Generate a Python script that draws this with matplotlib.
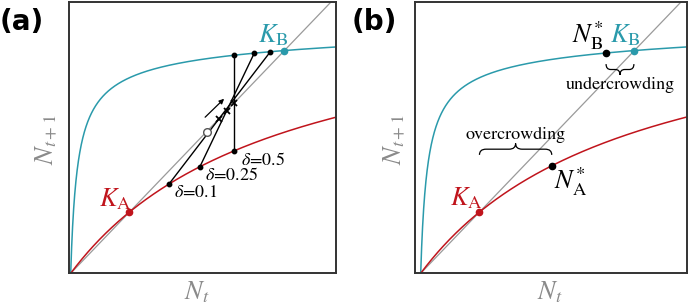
import numpy as np
import matplotlib
matplotlib.use("Agg")
import matplotlib.pyplot as plt
from matplotlib.path import Path
from matplotlib.patches import PathPatch

plt.rcParams['mathtext.fontset'] = 'stix'
SERIF = ['STIXGeneral', 'Liberation Serif', 'DejaVu Serif']

# ---- data ----
# Hassell-type map N_{t+1} = lam*N / (1 + alpha*N)**beta
params_A = dict(lam=1.281, alpha=1.244, beta=1.0)    # red curve
params_B = dict(lam=30.8, alpha=43.66, beta=0.95)    # teal curve
K_A = 0.226
K_B = 0.820
# panel (a): mixing lines (x on curve A, x on curve B)
deltas = [0.1, 0.25, 0.5]
x_on_A = [0.378, 0.497, 0.629]
x_on_B = [0.768, 0.706, 0.629]
delta_labels = ["$\\delta$=0.1", "$\\delta$=0.25", "$\\delta$=0.5"]
open_circle = 0.523
arrow_from = (0.517, 0.576)
arrow_to = (0.590, 0.644)
# panel (b)
N_A_star = 0.504
N_B_star = 0.713

TEAL = "#2a9aab"
RED = "#c0141c"
GRAY = "#9a9a9a"


def f(x, lam, alpha, beta):
    return lam * x / (1 + alpha * x) ** beta


W, H = 689, 305
fig = plt.figure(figsize=(W / 100, H / 100), dpi=100)


def px_axes(left, right, top, bottom):
    return fig.add_axes([left / W, 1 - bottom / H, (right - left) / W, (bottom - top) / H])


def setup(ax, origin_px, left_px, right_px):
    ax.set_xlim((left_px - origin_px) / 260.0, (right_px - origin_px) / 260.0)
    ax.set_ylim(0, (273.3 - 1.7) / 271.0)
    ax.set_xticks([])
    ax.set_yticks([])
    for s in ax.spines.values():
        s.set_color("#333333")
        s.set_linewidth(1.4)
    x = np.linspace(0, 1.03, 2000)
    ax.plot([0, 1.1], [0, 1.1], color=GRAY, lw=0.9, zorder=1)
    ax.plot(x, f(x, **params_B), color=TEAL, lw=1.1, zorder=2)
    ax.plot(x, f(x, **params_A), color=RED, lw=1.1, zorder=2)
    ax.plot([K_A], [K_A], 'o', color=RED, ms=4.5, zorder=5)
    ax.plot([K_B], [K_B], 'o', color=TEAL, ms=4.5, zorder=5)


def brace(ax, x1, x2, y0, h, q=0.025):
    ym = y0 + h / 2
    xm = (x1 + x2) / 2
    verts = [(x1, y0), (x1, ym), (x1 + q, ym), (xm - q, ym), (xm, ym), (xm, y0 + h),
             (xm, ym), (xm + q, ym), (x2 - q, ym), (x2, ym), (x2, y0)]
    codes = [Path.MOVETO, Path.CURVE3, Path.CURVE3, Path.LINETO, Path.CURVE3, Path.CURVE3,
             Path.CURVE3, Path.CURVE3, Path.LINETO, Path.CURVE3, Path.CURVE3]
    ax.add_patch(PathPatch(Path(verts, codes), fc='none', ec='black', lw=0.9, zorder=4))


# ---------------- panel (a) ----------------
axa = px_axes(69, 336, 1.7, 273.3)
setup(axa, 70.7, 69, 336)
for xa, xb in zip(x_on_A, x_on_B):
    ya = f(xa, **params_A)
    yb = f(xb, **params_B)
    axa.plot([xa, xb], [ya, yb], color='black', lw=1.0, zorder=3)
    axa.plot([xa, xb], [ya, yb], 'o', color='black', ms=3.2, zorder=4)
    # crossing with the diagonal
    if xb == xa:
        xc = xa
    else:
        m = (yb - ya) / (xb - xa)
        xc = (ya - m * xa) / (1 - m)
    axa.plot([xc], [xc], marker='x', color='black', ms=5, mew=1.3, zorder=5)
axa.plot([open_circle], [open_circle], 'o', mfc='white', mec='#555555', ms=5.5, mew=1.0, zorder=5)
axa.annotate("", xy=arrow_to, xytext=arrow_from,
             arrowprops=dict(arrowstyle='-|>', color='black', lw=0.9,
                             mutation_scale=7, shrinkA=0, shrinkB=0))
axa.text(0.171, 0.248, "$K_\\mathrm{A}$", color=RED, fontsize=19, ha='center', va='baseline')
axa.text(0.778, 0.852, "$K_\\mathrm{B}$", color=TEAL, fontsize=19, ha='center', va='baseline')
for lab, (lx, ly) in zip(delta_labels, [(0.482, 0.295), (0.619, 0.362), (0.740, 0.418)]):
    axa.text(lx, ly, lab, fontsize=13, ha='center', va='center', family=SERIF)

# ---------------- panel (b) ----------------
axb = px_axes(415, 687, 1.7, 273.3)
setup(axb, 420.7, 415, 687)
axb.plot([N_A_star], [f(N_A_star, **params_A)], 'o', color='black', ms=4.5, zorder=5)
axb.plot([N_B_star], [f(N_B_star, **params_B)], 'o', color='black', ms=4.5, zorder=5)
axb.text(0.177, 0.252, "$K_\\mathrm{A}$", color=RED, fontsize=19, ha='center', va='baseline')
axb.text(0.785, 0.852, "$K_\\mathrm{B}$", color=TEAL, fontsize=19, ha='center', va='baseline')
axb.text(0.575, 0.314, "$N^{*}_{\\mathrm{A}}$", fontsize=19, ha='center', va='baseline')
axb.text(0.640, 0.852, "$N^{*}_{\\mathrm{B}}$", fontsize=19, ha='center', va='baseline')
brace(axb, K_A, N_A_star, 0.437, 0.042)
brace(axb, N_B_star, K_B, 0.772, -0.040, q=0.018)
axb.text(0.363, 0.512, "overcrowding", fontsize=13, ha='center', va='center', family=SERIF)
axb.text(0.767, 0.695, "undercrowding", fontsize=13, ha='center', va='center', family=SERIF)

# ---------------- labels ----------------
for cx in (196.7, 550):
    fig.text(cx / W, 1 - 292 / H, "$N_t$", color="#8a8a8a", fontsize=19, ha='center', va='center')
for cx in (46.7, 395):
    fig.text(cx / W, 1 - 140 / H, "$N_{t+1}$", color="#8a8a8a", fontsize=19, ha='center',
             va='center', rotation=90)
fig.text(0 / W, 1 - 22 / H, "(a)", fontsize=20, fontweight='bold', ha='left', va='center',
         family='DejaVu Sans')
fig.text(352 / W, 1 - 22 / H, "(b)", fontsize=20, fontweight='bold', ha='left', va='center',
         family='DejaVu Sans')

fig.savefig("out.png", dpi=100)
